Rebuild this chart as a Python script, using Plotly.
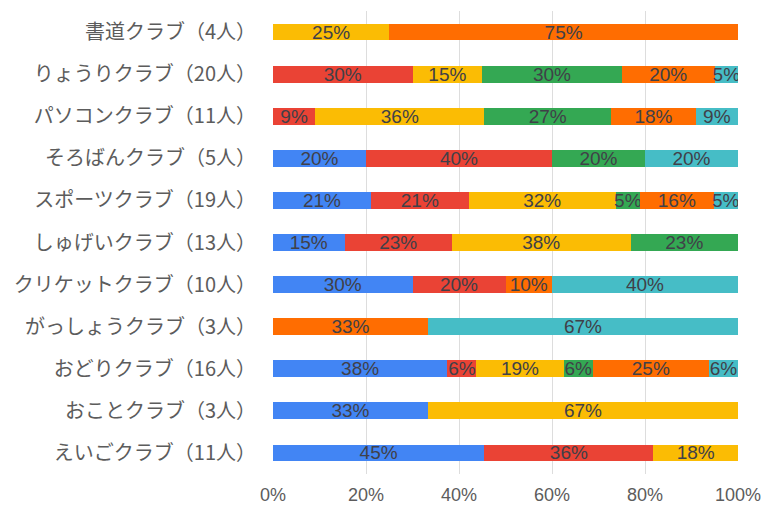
import plotly.graph_objects as go

categories = ["書道クラブ（4人）", "りょうりクラブ（20人）", "パソコンクラブ（11人）", "そろばんクラブ（5人）",
              "スポーツクラブ（19人）", "しゅげいクラブ（13人）", "クリケットクラブ（10人）", "がっしょうクラブ（3人）",
              "おどりクラブ（16人）", "おことクラブ（3人）", "えいごクラブ（11人）"]

# head counts per segment (blue, red, yellow, green, orange, teal)
blue   = [0, 0, 0, 1, 4, 2, 3, 0, 6, 1, 5]
red    = [0, 6, 1, 2, 4, 3, 2, 0, 1, 0, 4]
yellow = [1, 3, 4, 0, 6, 5, 0, 0, 3, 2, 2]
green  = [0, 6, 3, 1, 1, 3, 0, 0, 1, 0, 0]
orange = [3, 4, 2, 0, 3, 0, 1, 1, 4, 0, 0]
teal   = [0, 1, 1, 1, 1, 0, 4, 2, 1, 0, 0]

series = [blue, red, yellow, green, orange, teal]
colors = ["#4285F4", "#EA4335", "#FBBC04", "#34A853", "#FF6D01", "#46BDC6"]

totals = [sum(s[i] for s in series) for i in range(len(categories))]

fig = go.Figure()
for vals, col in zip(series, colors):
    pct = [v / t * 100 for v, t in zip(vals, totals)]
    txt = [f"{int(p + 0.5)}%" if v > 0 else "" for p, v in zip(pct, vals)]
    fig.add_trace(go.Bar(
        y=categories, x=pct, orientation="h", marker=dict(color=col, line=dict(width=0)),
        text=txt, textposition="inside", insidetextanchor="middle",
        textfont=dict(size=19, color="#404048", family="Liberation Sans, Arial, sans-serif"),
        constraintext="none", hoverinfo="skip", showlegend=False,
    ))

fig.update_layout(
    barmode="stack", bargap=0.6,
    width=774, height=506,
    margin=dict(l=265, r=44, t=3, b=40),
    plot_bgcolor="white", paper_bgcolor="white",
    uniformtext=dict(minsize=19, mode="show"),
    font=dict(family="Noto Sans CJK JP, sans-serif", color="#5c5c5c", size=20),
)
fig.update_xaxes(range=[0, 100], tickvals=[0, 20, 40, 60, 80, 100],
                 ticktext=["0%", "20%", "40%", "60%", "80%", "100%"],
                 showgrid=True, gridcolor="#dddddd", gridwidth=1, zeroline=False,
                 showline=False, ticks="", ticklabelstandoff=8, automargin=False,
                 tickfont=dict(size=18, color="#5c5c5c", family="Liberation Sans, Arial, sans-serif"))
fig.update_yaxes(autorange="reversed", showgrid=False, ticks="", ticklabelstandoff=16, automargin=False,
                 tickfont=dict(size=20, color="#5c5c5c"))

fig.write_html("out.html")
